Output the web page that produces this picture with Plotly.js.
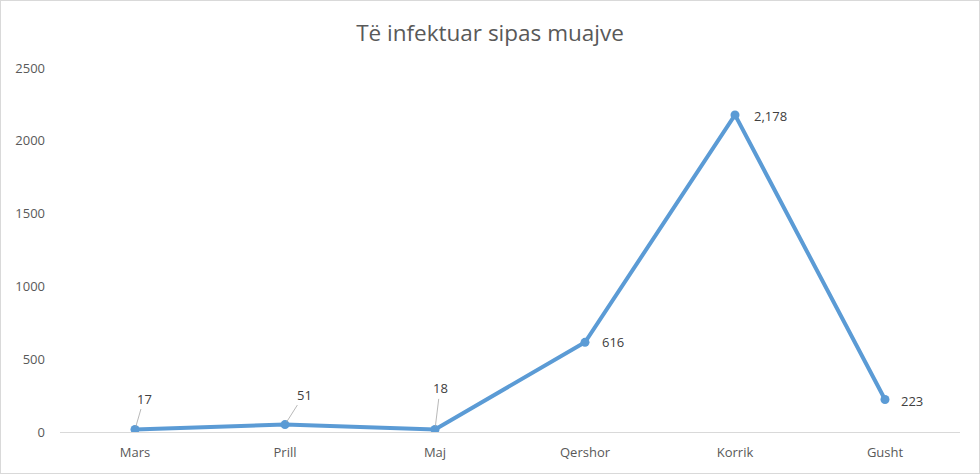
<!DOCTYPE html>
<html>
<head>
<meta charset="utf-8">
<script src="https://cdn.plot.ly/plotly-3.0.1.min.js"></script>
<style>
html,body{margin:0;padding:0;background:#fff;}
#wrap{position:relative;width:980px;height:474px;}
#chart{width:980px;height:474px;}
#frame{position:absolute;left:0;top:0;width:980px;height:474px;box-sizing:border-box;border:1.5px solid #d9d9d9;pointer-events:none;}
</style>
</head>
<body>
<div id="wrap"><div id="chart"></div><div id="frame"></div></div>
<script>
var months = ["Mars", "Prill", "Maj", "Qershor", "Korrik", "Gusht"];
var infected = [17, 51, 18, 616, 2178, 223];
var labelTexts = ["17", "51", "18", "616", "2,178", "223"];
var yTicks = [0, 500, 1000, 1500, 2000, 2500];

var lineColor = "#5B9BD5";
var labelOffsets = [
  {ax: 9, ay: -31, arrow: true},
  {ax: 19, ay: -30, arrow: true},
  {ax: 5, ay: -41, arrow: true},
  {ax: 28, ay: 0, arrow: false},
  {ax: 35, ay: 1, arrow: false},
  {ax: 27, ay: 1, arrow: false}
];

var annotations = months.map(function(m, i){
  var o = labelOffsets[i];
  return {
    x: m, y: infected[i], xref: "x", yref: "y",
    text: labelTexts[i],
    showarrow: true,
    ax: o.ax, ay: o.ay,
    arrowhead: 0, arrowwidth: 0.8,
    arrowcolor: o.arrow ? "#a6a6a6" : "rgba(0,0,0,0)",
    standoff: 3,
    font: {family: "Open Sans, sans-serif", size: 13, color: "#404040"}
  };
});

var trace = {
  x: months, y: infected, type: "scatter", mode: "lines+markers",
  line: {color: lineColor, width: 4},
  marker: {color: lineColor, size: 9},
  hoverinfo: "x+y"
};

var layout = {
  width: 980, height: 474,
  margin: {l: 60, r: 20, t: 68, b: 42},
  paper_bgcolor: "#ffffff", plot_bgcolor: "#ffffff",
  showlegend: false,
  title: {
    text: "Të infektuar sipas muajve",
    xref: "container", yref: "container",
    x: 0.5, xanchor: "center", y: 0.931, yanchor: "middle",
    font: {family: "Open Sans, sans-serif", size: 22.5, color: "#595959"}
  },
  xaxis: {
    type: "category",
    showgrid: false, zeroline: false,
    showline: true, linecolor: "#d9d9d9", linewidth: 1,
    ticks: "", ticklabelstandoff: 8,
    tickfont: {family: "Open Sans, sans-serif", size: 13, color: "#595959"},
    range: [-0.5, 5.5]
  },
  yaxis: {
    range: [0, 2500],
    tickvals: yTicks, ticktext: yTicks.map(String),
    showgrid: false, zeroline: false, showline: false,
    ticks: "", ticklabelstandoff: 14,
    tickfont: {family: "Open Sans, sans-serif", size: 13, color: "#595959"}
  },
  annotations: annotations
};

Plotly.newPlot("chart", [trace], layout, {displayModeBar: false, staticPlot: true});
</script>
</body>
</html>
